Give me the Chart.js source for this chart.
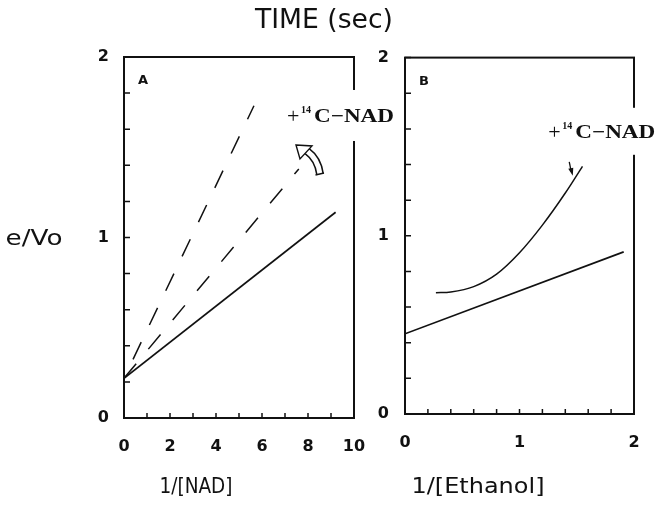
<!DOCTYPE html>
<html>
<head>
<meta charset="utf-8">
<script src="https://cdn.jsdelivr.net/npm/chart.js@4.4.1/dist/chart.umd.min.js"></script>
<style>
  body { margin: 0; background: #fff; }
  #page { position: relative; width: 658px; height: 514px; overflow: hidden; background: #fff; }
  canvas { position: absolute; }
</style>
</head>
<body>
<div id="page">
  <canvas id="labels" width="658" height="514" style="left:0;top:0"></canvas>
  <canvas id="chartA" width="315" height="430" style="left:80px;top:40px"></canvas>
  <canvas id="chartB" width="283" height="430" style="left:375px;top:40px"></canvas>
</div>
<script>
  "use strict";

  // Panel A: e/Vo against 1/[NAD]
  var nadControlX = [0, 9.2];
  var nadControlY = [0.22, 1.14];
  var nadDashLowX = [0, 7.6];
  var nadDashLowY = [0.22, 1.38];
  var nadDashHighX = [0, 5.65];
  var nadDashHighY = [0.22, 1.73];
  var nadTickLabels = [0, 2, 4, 6, 8, 10];

  // Panel B: e/Vo against 1/[Ethanol]
  var ethControlX = [0, 1.91];
  var ethControlY = [0.45, 0.91];
  var ethNadX = [0.27, 0.4, 0.6, 0.8, 1.0, 1.2, 1.4, 1.55];
  var ethNadY = [0.68, 0.685, 0.715, 0.785, 0.905, 1.06, 1.24, 1.39];
  var ethTickLabels = [0, 1, 2];

  var yTickLabels = [0, 1, 2];
  var noteText = ["+", "14", "C\u2212NAD"];

  var INK = "#111";

  // outer titles, squeezed to the width of the plotter lettering
  function fitText(ctx, text, cx, cy, size, width) {
    ctx.font = size + "px 'DejaVu Sans'";
    var w = ctx.measureText(text).width;
    ctx.save();
    ctx.translate(cx, cy);
    ctx.scale(width / w, 1);
    ctx.fillText(text, 0, 0);
    ctx.restore();
  }

  var lc = document.getElementById("labels").getContext("2d");
  lc.fillStyle = INK;
  lc.textAlign = "center";
  lc.textBaseline = "middle";
  fitText(lc, "TIME (sec)", 324, 21, 26, 138);
  fitText(lc, "e/Vo", 34, 239, 22, 57);
  fitText(lc, "1/[NAD]", 196, 487, 22, 73);
  fitText(lc, "1/[Ethanol]", 478, 487, 22, 133);

  function points(xs, ys) {
    return xs.map(function (x, i) { return { x: x, y: ys[i] }; });
  }

  function labelFor(list) {
    return function (v) {
      var r = Math.round(v * 1000) / 1000;
      return list.indexOf(r) >= 0 ? String(r) : "";
    };
  }

  // "+14C-NAD" note, white box behind it breaks the frame like the original
  function drawNote(ctx, x0, base, pad) {
    ctx.fillStyle = "#fff";
    ctx.fillRect(x0 - 2, base - 15 - pad, 109, 17 + pad * 2);
    ctx.fillStyle = INK;
    ctx.textBaseline = "alphabetic";
    ctx.font = "22px 'Liberation Serif'";
    ctx.fillText(noteText[0], x0 - 1, base + 1);
    ctx.font = "bold 10px 'Liberation Serif'";
    ctx.fillText(noteText[1], x0 + 13, base - 9);
    ctx.font = "bold 19px 'Liberation Serif'";
    var w = ctx.measureText(noteText[2]).width;
    ctx.save();
    ctx.translate(x0 + 26, base);
    ctx.scale(80 / w, 1);
    ctx.fillText(noteText[2], 0, 0);
    ctx.restore();
  }

  var framePlugin = {
    id: "frame",
    afterDraw: function (chart, args, opts) {
      var ctx = chart.ctx, a = chart.chartArea;
      var xs = chart.scales.x, ys = chart.scales.y;
      ctx.save();
      ctx.strokeStyle = INK;
      ctx.lineWidth = 2;
      ctx.strokeRect(a.left, a.top, a.right - a.left, a.bottom - a.top);

      // ticks point inward
      ctx.lineWidth = 1.5;
      ctx.beginPath();
      xs.ticks.forEach(function (t, i) {
        var px = xs.getPixelForTick(i);
        ctx.moveTo(px, a.bottom);
        ctx.lineTo(px, a.bottom - 5);
      });
      ys.ticks.forEach(function (t, i) {
        var py = ys.getPixelForTick(i);
        ctx.moveTo(a.left, py);
        ctx.lineTo(a.left + 6, py);
      });
      ctx.stroke();

      // panel letter
      ctx.fillStyle = INK;
      ctx.font = "bold 13px 'DejaVu Sans'";
      ctx.textBaseline = "middle";
      ctx.fillText(opts.letter, a.left + 14, a.top + 24);

      var nx = xs.getPixelForValue(opts.note[0]);
      var ny = ys.getPixelForValue(opts.note[1]);
      drawNote(ctx, nx, ny, opts.pad);

      ctx.strokeStyle = INK;
      ctx.fillStyle = INK;
      if (opts.arrow === "curved") {
        // hollow bent arrow under the note
        var ax = nx + 32, ay = ny + 52;
        ctx.lineCap = "butt";
        ctx.beginPath();
        ctx.moveTo(ax, ay);
        ctx.quadraticCurveTo(ax - 2, ay - 15, ax - 13, ay - 23);
        ctx.lineWidth = 8;
        ctx.stroke();
        ctx.strokeStyle = "#fff";
        ctx.lineWidth = 5;
        ctx.stroke();
        ctx.strokeStyle = INK;
        ctx.lineWidth = 1.4;
        ctx.beginPath();
        ctx.moveTo(ax - 4.5, ay + 1);
        ctx.lineTo(ax + 4, ay - 1);
        ctx.stroke();
        ctx.beginPath();
        ctx.moveTo(ax - 24, ay - 29);
        ctx.lineTo(ax - 8, ay - 28);
        ctx.lineTo(ax - 20, ay - 15);
        ctx.closePath();
        ctx.fillStyle = "#fff";
        ctx.fill();
        ctx.stroke();
      } else {
        // small down arrow
        var bx = nx + 20, by = ny + 24;
        ctx.lineWidth = 1.3;
        ctx.beginPath();
        ctx.moveTo(bx, by);
        ctx.lineTo(bx + 2, by + 10);
        ctx.stroke();
        ctx.beginPath();
        ctx.moveTo(bx + 3.5, by + 14);
        ctx.lineTo(bx - 1, by + 7);
        ctx.lineTo(bx + 4, by + 6);
        ctx.closePath();
        ctx.fill();
      }
      ctx.restore();
    },
  };

  function scaleOptions(min, max, step, labels, width, height, pad) {
    return {
      type: "linear",
      min: min,
      max: max,
      grid: { display: false },
      border: { display: false },
      ticks: {
        stepSize: step,
        autoSkip: false,
        maxRotation: 0,
        padding: pad,
        color: INK,
        font: { family: "DejaVu Sans", size: 16, weight: "bold" },
        callback: labelFor(labels),
      },
      afterFit: function (s) {
        if (width) s.width = width;
        if (height) s.height = height;
      },
    };
  }

  function lineSet(data, dash, offset, width, curve) {
    return {
      data: data,
      showLine: true,
      borderColor: INK,
      borderWidth: width,
      borderDash: dash,
      borderDashOffset: offset,
      pointRadius: 0,
      fill: false,
      tension: curve ? 0.4 : 0,
      cubicInterpolationMode: curve ? "monotone" : "default",
    };
  }

  function makeChart(id, datasets, xOpt, yOpt, padding, frame) {
    return new Chart(document.getElementById(id), {
      type: "scatter",
      data: { datasets: datasets },
      options: {
        responsive: false,
        animation: false,
        devicePixelRatio: 1,
        layout: { padding: padding },
        plugins: { legend: { display: false }, tooltip: { enabled: false }, frame: frame },
        scales: { x: xOpt, y: yOpt },
      },
      plugins: [framePlugin],
    });
  }

  makeChart(
    "chartA",
    [
      lineSet(points(nadControlX, nadControlY), [], 0, 1.7, false),
      lineSet(points(nadDashLowX, nadDashLowY), [19, 19], 0, 1.5, false),
      lineSet(points(nadDashHighX, nadDashHighY), [19, 19], 17, 1.5, false),
    ],
    scaleOptions(0, 10, 1, nadTickLabels, 0, 52, 11),
    scaleOptions(0, 2, 0.2, yTickLabels, 44, 0, 7),
    { top: 17, right: 41, left: 0, bottom: 0 },
    { letter: "A", note: [7.13, 1.64], pad: 17, arrow: "curved" }
  );

  makeChart(
    "chartB",
    [
      lineSet(points(ethControlX, ethControlY), [], 0, 1.7, false),
      lineSet(points(ethNadX, ethNadY), [], 0, 1.5, true),
    ],
    scaleOptions(0, 2, 0.2, ethTickLabels, 0, 56, 11),
    scaleOptions(0, 2, 0.2, yTickLabels, 30, 0, 8),
    { top: 15, right: 24, left: 0, bottom: 0 },
    { letter: "B", note: [1.26, 1.55], pad: 15, arrow: "down" }
  );
</script>
</body>
</html>
